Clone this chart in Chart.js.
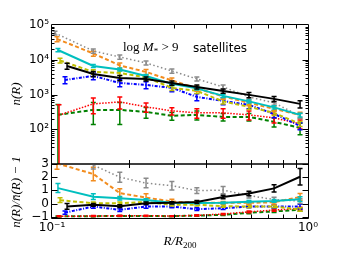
<!DOCTYPE html>
<html>
<head>
<meta charset="utf-8">
<script src="https://cdn.jsdelivr.net/npm/chart.js@4.4.0/dist/chart.umd.min.js"></script>
<style>
html, body { margin: 0; padding: 0; background: #fff; }
#wrap { position: relative; width: 344px; height: 258px; }
canvas { position: absolute; left: 0; top: 0; }
</style>
</head>
<body>
<div id="wrap">
  <canvas id="top" width="344" height="258"></canvas>
  <canvas id="low" width="344" height="258"></canvas>
</div>
<script>
// radial bins (R/R200): first bin differs a bit per series, the rest are shared
const rBins = [0.145, 0.184, 0.233, 0.294, 0.368, 0.466, 0.588, 0.737, 0.931];
const rFirst = { black: 0.1145, gray: 0.1027, orange: 0.1046, cyan: 0.1055, yellow: 0.1075, blue: 0.1124, red: 0.1065, green: 0.1055 };

// top panel: n(R)
const nBlack  = [6640, 3910, 3000, 2810, 2150, 1650, 1270, 975, 748, 537];
const nGray   = [58900, 17900, 12000, 8090, 4760, 2810, 1650, 853, 574, 243];
const nOrange = [39600, 15200, 6860, 4460, 2540, 1500, 881, 574, 385, 259];
const nCyan   = [19100, 6640, 5260, 3420, 2020, 1500, 912, 634, 426, 259];
const nYellow = [9550, 4460, 4180, 3100, 1550, 1270, 634, 441, 296, 143];
const nBlue   = [2630, 3420, 2150, 1890, 1550, 853, 655, 502, 277, 125];
const nRed    = [255, 537, 612, 441, 338, 296, 296, 259, 213, 143];
const nGreen  = [260, 361, 361, 316, 243, 259, 227, 227, 163, 110];

const eBlack  = [1300, 650, 500, 380, 290, 220, 175, 165, 130, 125];
const eGray   = [7000, 2400, 1600, 1050, 650, 380, 230, 120, 80, 40];
const eOrange = [6500, 2500, 1150, 750, 420, 250, 150, 100, 66, 48];
const eCyan   = [2000, 700, 550, 360, 210, 160, 95, 66, 45, 32];
const eYellow = [1450, 680, 640, 480, 240, 200, 100, 70, 46, 23];
const eBlue   = [600, 780, 490, 430, 350, 190, 150, 115, 63, 29];
const eRed    = [250, 260, 230, 130, 80, 90, 90, 75, 62, 42];
const eGreen  = [258, 225, 225, 110, 60, 75, 55, 55, 46, 40];

// bottom panel: n(R)/nbar(R) - 1
const dBlack  = [-0.22, -0.1, -0.2, 0.02, 0.05, 0.12, 0.5, 0.76, 1.15, 2.03];
const dGray   = [5.0, 2.92, 2.0, 1.55, 1.35, 0.98, 1.02, 0.6, 0.3, 0.18];
const dOrange = [3.05, 2.24, 0.79, 0.45, 0.15, 0.05, 0.05, 0.05, 0.1, 0.5];
const dCyan   = [1.17, 0.52, 0.4, 0.27, 0.05, 0.03, 0.05, 0.14, 0.2, 0.33];
const dYellow = [0.25, 0.02, 0.02, 0.12, -0.1, -0.1, -0.2, -0.23, -0.23, -0.45];
const dBlue   = [-0.69, -0.23, -0.48, -0.23, -0.23, -0.43, -0.36, -0.23, -0.23, -0.23];
const dRed    = [-0.97, -0.95, -0.93, -0.93, -0.95, -0.9, -0.8, -0.63, -0.5, -0.38];
const dGreen  = [-0.98, -0.96, -0.95, -0.95, -0.96, -0.92, -0.86, -0.7, -0.6, -0.48];

const deBlack  = [0.22, 0.1, 0.1, 0.09, 0.09, 0.1, 0.13, 0.18, 0.28, 0.62];
const deGray   = [0.5, 0.3, 0.38, 0.36, 0.32, 0.22, 0.28, 0.18, 0.18, 0.18];
const deOrange = [0.45, 0.52, 0.34, 0.3, 0.18, 0.1, 0.1, 0.1, 0.13, 0.26];
const deCyan   = [0.34, 0.22, 0.13, 0.1, 0.08, 0.07, 0.07, 0.09, 0.1, 0.18];
const deYellow = [0.18, 0.1, 0.1, 0.1, 0.08, 0.08, 0.08, 0.09, 0.1, 0.13];
const deBlue   = [0.13, 0.13, 0.13, 0.13, 0.1, 0.1, 0.1, 0.1, 0.13, 0.18];
const deRed    = [0.04, 0.04, 0.04, 0.03, 0.03, 0.04, 0.05, 0.07, 0.09, 0.1];
const deGreen  = [0.04, 0.04, 0.04, 0.03, 0.03, 0.04, 0.05, 0.07, 0.09, 0.1];

const topSeries = { black: [nBlack, eBlack], gray: [nGray, eGray], orange: [nOrange, eOrange], cyan: [nCyan, eCyan],
  yellow: [nYellow, eYellow], blue: [nBlue, eBlue], red: [nRed, eRed], green: [nGreen, eGreen] };
const lowSeries = { black: [dBlack, deBlack], gray: [dGray, deGray], orange: [dOrange, deOrange], cyan: [dCyan, deCyan],
  yellow: [dYellow, deYellow], blue: [dBlue, deBlue], red: [dRed, deRed], green: [dGreen, deGreen] };

// first in list is drawn on top
const styles = [
  { key: 'black',  color: '#000000', dash: [], width: 2 },
  { key: 'cyan',   color: '#00bfbf', dash: [], width: 2 },
  { key: 'gray',   color: '#8a8a8a', dash: [1.5, 2.5], width: 1.5 },
  { key: 'orange', color: '#f28c1e', dash: [4, 2.5], width: 2 },
  { key: 'yellow', color: '#bfbf00', dash: [4, 2.5], width: 2 },
  { key: 'blue',   color: '#0000ff', dash: [3, 1.5, 1, 1.5], width: 2 },
  { key: 'red',    color: '#ff0000', dash: [1.5, 1.5], width: 1.5 },
  { key: 'green',  color: '#008000', dash: [4, 2.5], width: 2 }
];

function makeDatasets(src) {
  return styles.map(s => {
    const [vals, errs] = src[s.key];
    const rs = [rFirst[s.key]].concat(rBins);
    return {
      data: vals.map((v, i) => ({ x: rs[i], y: v })),
      errs: errs,
      borderColor: s.color,
      borderWidth: s.width,
      borderDash: s.dash,
      borderCapStyle: 'butt',
      pointRadius: 0,
      tension: 0,
      fill: false,
      clip: 0
    };
  });
}

const SUP = { '-': '⁻', '0': '⁰', '1': '¹', '2': '²', '3': '³', '4': '⁴', '5': '⁵' };
const pow10 = v => '10' + String(Math.round(Math.log10(v))).split('').map(c => SUP[c]).join('');
const tickFont = { family: 'DejaVu Sans', size: 12 };

// error bars, drawn right after each line
const errorBars = {
  id: 'errorBars',
  afterDatasetDraw(chart, args) {
    const ds = chart.data.datasets[args.index];
    if (!ds.errs) return;
    const { ctx, chartArea: a } = chart;
    const xs = chart.scales.x, ys = chart.scales.y;
    ctx.save();
    ctx.beginPath();
    ctx.rect(a.left, a.top, a.right - a.left, a.bottom - a.top);
    ctx.clip();
    ctx.strokeStyle = ds.borderColor;
    ctx.lineWidth = 1.5;
    ctx.setLineDash([]);
    ds.data.forEach((p, i) => {
      const e = ds.errs[i];
      let lo = p.y - e;
      if (ys.type === 'logarithmic' && lo <= 0) lo = ys.min / 10;
      const x = xs.getPixelForValue(p.x);
      const y1 = ys.getPixelForValue(p.y + e), y2 = ys.getPixelForValue(lo);
      ctx.beginPath();
      ctx.moveTo(x, y1); ctx.lineTo(x, y2);
      ctx.moveTo(x - 2.5, y1); ctx.lineTo(x + 2.5, y1);
      ctx.moveTo(x - 2.5, y2); ctx.lineTo(x + 2.5, y2);
      ctx.stroke();
    });
    ctx.restore();
  }
};

// box and inward ticks, matplotlib style
const frame = {
  id: 'frame',
  afterDatasetsDraw(chart, args, o) {
    const ctx = chart.ctx;
    const xs = chart.scales.x, ys = chart.scales.y;
    const L = 51.5, R = 308.5, T = o.T, B = o.B;
    ctx.save();
    ctx.strokeStyle = '#000';
    ctx.lineWidth = 1;
    ctx.setLineDash([]);
    ctx.beginPath();
    ctx.moveTo(L, T); ctx.lineTo(R, T);
    ctx.moveTo(L, B); ctx.lineTo(R, B);
    ctx.moveTo(L, T); ctx.lineTo(L, B);
    ctx.moveTo(R, T); ctx.lineTo(R, B);
    [0.2, 0.3, 0.4, 0.5, 0.6, 0.7, 0.8, 0.9].forEach(v => {
      const x = Math.round(xs.getPixelForValue(v)) + 0.5;
      ctx.moveTo(x, T); ctx.lineTo(x, T + 4);
      ctx.moveTo(x, B); ctx.lineTo(x, B - 4);
    });
    const yt = o.yMajor.map(v => [v, 6]).concat(o.yMinor.map(v => [v, 3]));
    yt.forEach(([v, len]) => {
      const y = Math.round(ys.getPixelForValue(v)) + 0.5;
      ctx.moveTo(L, y); ctx.lineTo(L + len, y);
      ctx.moveTo(R, y); ctx.lineTo(R - len, y);
    });
    ctx.stroke();
    ctx.restore();
  }
};

function pieces(ctx, x, y, parts) {
  parts.forEach(p => {
    ctx.font = p[1];
    ctx.fillText(p[0], x, y + (p[2] || 0));
    x += ctx.measureText(p[0]).width;
  });
  return x;
}

const texts = {
  id: 'texts',
  afterDraw(chart) {
    const ctx = chart.ctx;
    ctx.save();
    ctx.fillStyle = '#000';
    ctx.textBaseline = 'alphabetic';
    ctx.textAlign = 'left';
    pieces(ctx, 123, 51, [
      ['log ', '13px "Liberation Serif"'],
      ['M', 'italic 13px "Liberation Serif"'],
      ['*', '9px "Liberation Serif"', 3],
      [' > 9', '13px "Liberation Serif"']
    ]);
    ctx.font = '12px "DejaVu Sans"';
    ctx.fillText('satellites', 193, 52);
    // x title
    ctx.font = 'italic 13px "Liberation Serif"';
    const w = ctx.measureText('R/R').width;
    ctx.font = '9px "Liberation Serif"';
    const w2 = ctx.measureText('200').width;
    pieces(ctx, 180 - (w + w2) / 2, 245, [
      ['R/R', 'italic 13px "Liberation Serif"'],
      ['200', '9px "Liberation Serif"', 3]
    ]);
    // y titles
    ctx.font = 'italic 13px "Liberation Serif"';
    ctx.textAlign = 'center';
    ctx.textBaseline = 'middle';
    ctx.save();
    ctx.translate(17, 94); ctx.rotate(-Math.PI / 2);
    ctx.fillText('n(R)', 0, 0);
    ctx.restore();
    ctx.save();
    ctx.translate(17, 192); ctx.rotate(-Math.PI / 2);
    ctx.fillText('n(R)/n\u0304(R) \u2212 1', 0, 0);
    ctx.restore();
    ctx.restore();
  }
};

const logMinors = [];
[10, 100, 1000, 10000].forEach(d => { for (let k = 2; k <= 9; k++) logMinors.push(k * d); });

new Chart(document.getElementById('top'), {
  type: 'line',
  data: { datasets: makeDatasets(topSeries) },
  plugins: [errorBars, frame],
  options: {
    responsive: false,
    animation: false,
    devicePixelRatio: 1,
    layout: { padding: { left: 0, top: 25, right: 36, bottom: 94 } },
    plugins: {
      legend: { display: false },
      tooltip: { enabled: false },
      frame: { T: 24.5, B: 164, yMajor: [100, 1000, 10000], yMinor: logMinors }
    },
    scales: {
      x: { type: 'logarithmic', min: 0.1, max: 1, display: false },
      y: {
        type: 'logarithmic', min: 10, max: 100000,
        grid: { display: false, drawTicks: false },
        border: { display: false },
        afterBuildTicks: s => { s.ticks = [100, 1000, 10000, 100000].map(v => ({ value: v })); },
        afterFit: s => { s.width = 52; },
        ticks: { callback: v => pow10(v), font: tickFont, color: '#000', padding: 3, autoSkip: false }
      }
    }
  }
});

new Chart(document.getElementById('low'), {
  type: 'line',
  data: { datasets: makeDatasets(lowSeries) },
  plugins: [errorBars, frame, texts],
  options: {
    responsive: false,
    animation: false,
    devicePixelRatio: 1,
    layout: { padding: { left: 0, top: 164, right: 36, bottom: 0 } },
    plugins: {
      legend: { display: false },
      tooltip: { enabled: false },
      frame: { T: 164, B: 218.5, yMajor: [-1, 0, 1, 2, 3], yMinor: [] }
    },
    scales: {
      x: {
        type: 'logarithmic', min: 0.1, max: 1,
        grid: { display: false, drawTicks: false },
        border: { display: false },
        afterBuildTicks: s => { s.ticks = [0.1, 1].map(v => ({ value: v })); },
        afterFit: s => { s.height = 40; },
        ticks: { callback: v => pow10(v), font: tickFont, color: '#000', padding: 3, autoSkip: false, maxRotation: 0 }
      },
      y: {
        type: 'linear', min: -1.1, max: 3,
        grid: { display: false, drawTicks: false },
        border: { display: false },
        afterBuildTicks: s => { s.ticks = [-1, 0, 1, 2, 3].map(v => ({ value: v })); },
        afterFit: s => { s.width = 52; },
        ticks: { callback: v => (v < 0 ? '\u2212' + (-v) : String(v)), font: tickFont, color: '#000', padding: 3, autoSkip: false }
      }
    }
  }
});
</script>
</body>
</html>
